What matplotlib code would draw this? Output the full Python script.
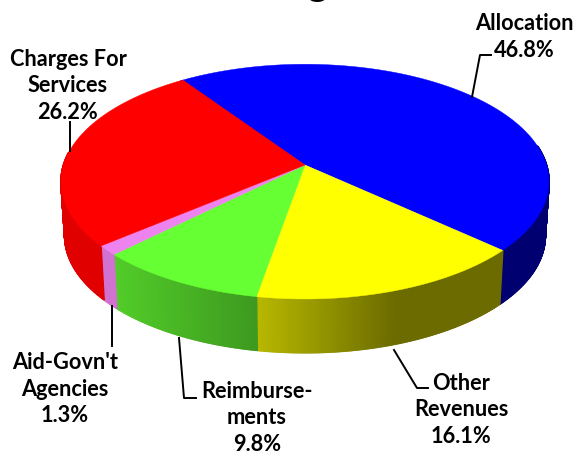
# 3-D style revenue pie, drawn in pixel coordinates with a simple perspective map
import numpy as np
import matplotlib
matplotlib.use("Agg")
import matplotlib.pyplot as plt
from matplotlib.collections import PolyCollection
from matplotlib.colors import to_rgb

labels = ["Allocation\n46.8%", "Other\nRevenues\n16.1%", "Reimburse-\nments\n9.8%",
          "Aid-Govn't\nAgencies\n1.3%", "Charges For\nServices\n26.2%"]
values = [46.8, 16.1, 9.8, 1.3, 26.2]
colors = ["#0000ff", "#ffff00", "#66ff33", "#ee82ee", "#ff0000"]
title = "Budget"

W, H = 575, 455
CX, CY = 305, 165
RX, RY, K = 241.5, 115.0, 0.1416
START = -34.0
DEPTH, SHRINK_X, SHRINK_Y = 54, 0.985, 0.998

# side wall brightness against x, one set of stops per slice
wall_x = [[300, 551], [257, 395, 551], [115, 257], [100, 120], [60, 110]]
wall_v = [[0.44, 0.44], [0.72, 0.42, 0.42], [0.80, 0.60], [0.88, 0.88], [0.88, 0.88]]


def top_xy(deg):
    # small angle warp, the original's wedges are not quite evenly spread
    deg = deg - 1.75 + 0.75 * np.cos(np.radians(deg))
    a = np.radians(deg)
    u, v = np.sin(a), -np.cos(a)
    w = 1 - K * v
    return CX + RX * u / w, CY + RY * v / w


def bottom_xy(deg):
    x, y = top_xy(deg)
    return CX + (x - CX) * SHRINK_X, CY + DEPTH + (y - CY) * SHRINK_Y


plt.rcParams["font.family"] = ["Lato", "DejaVu Sans"]
fig = plt.figure(figsize=(W / 100, H / 100), dpi=100)
ax = fig.add_axes([0, 0, 1, 1])
ax.set_xlim(0, W)
ax.set_ylim(H, 0)
ax.axis("off")

edges = START + np.cumsum([0] + values) * 3.6

# side wall, only the part facing the viewer
for i, c in enumerate(colors):
    a0, a1 = max(edges[i], 82), min(edges[i + 1], 278)
    if a1 <= a0:
        continue
    ang = np.linspace(a0, a1, int((a1 - a0) * 3) + 2)
    polys, fc = [], []
    base = np.array(to_rgb(c))
    for p, q in zip(ang[:-1], ang[1:]):
        polys.append([top_xy(p), top_xy(q), bottom_xy(q), bottom_xy(p)])
        fc.append(base * np.interp(top_xy((p + q) / 2)[0], wall_x[i], wall_v[i]))
    ax.add_collection(PolyCollection(polys, facecolors=fc, edgecolors=fc, linewidths=1.2))

# top face
for i, c in enumerate(colors):
    ang = np.linspace(edges[i], edges[i + 1], 150)
    xs, ys = top_xy(ang)
    ax.fill(np.r_[CX, xs], np.r_[CY, ys], color=c, lw=0.3)

# leader lines
leaders = [[(472, 97), (480, 55), (491, 55)],
           [(394, 350), (417, 388), (428, 388)],
           [(179, 338), (184, 398), (196, 398)],
           [(112, 306), (112, 346)],
           [(70, 122), (70, 151)]]
for pts in leaders:
    ax.plot(*zip(*pts), color="black", lw=1.4, solid_joinstyle="round")

# labels
label_pos = [(524, 37), (461, 410), (257, 418), (65, 389), (68, 86)]
for t, (x, y) in zip(labels, label_pos):
    ax.text(x, y, t, ha="center", va="center", fontsize=15.7, fontweight="bold",
            linespacing=1.3, color="black")

ax.text(302, -4, title, ha="center", va="baseline", fontsize=28, fontweight="bold", clip_on=False)

fig.savefig("out.png", dpi=100)
